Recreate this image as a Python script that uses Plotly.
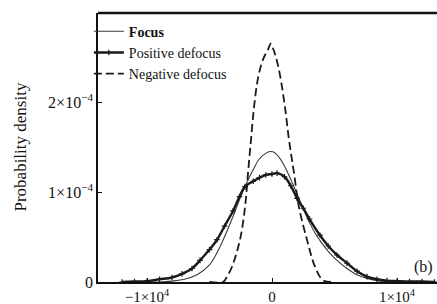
import plotly.graph_objects as go

# ---- data (density values in units of 1e-4) ----
focus_x = [-10000, -9000, -8000, -7000, -6000, -5000, -4500, -4000, -3500, -3000, -2500, -2160,
           -1500, -1000, -500, -150, 200, 600, 1000, 1600, 2000, 2500, 3000, 3500, 3840,
           4500, 5200, 6000, 6800, 7600, 8400, 9200, 10000]
focus_y = [0.0, 0.0, 0.01, 0.03, 0.08, 0.19, 0.30, 0.44, 0.60, 0.77, 0.95, 1.06,
           1.25, 1.37, 1.43, 1.45, 1.44, 1.38, 1.29, 1.11, 0.98, 0.82, 0.66, 0.53, 0.46,
           0.34, 0.24, 0.15, 0.08, 0.04, 0.015, 0.005, 0.0]

pos_x = [-12000, -11000, -10000, -9000, -8000, -7200, -6400, -5760, -5000, -4400, -3800, -3120,
         -2600, -2160, -1500, -1000, -500, 0, 400, 1000, 1500, 2000, 2500, 3000, 3840,
         4500, 5200, 6000, 6800, 7600, 8400, 9200, 10000, 11000, 12000, 13000]
pos_y = [0.0, 0.005, 0.01, 0.03, 0.05, 0.09, 0.15, 0.24, 0.36, 0.47, 0.62, 0.79,
         0.95, 1.06, 1.12, 1.16, 1.19, 1.20, 1.21, 1.17, 1.07, 0.93, 0.82, 0.70, 0.52,
         0.40, 0.30, 0.21, 0.12, 0.06, 0.03, 0.015, 0.01, 0.005, 0.005, 0.0]

neg_x = [-5000, -3920, -3600, -3200, -2560, -2160, -1920, -1680, -1440, -1100, -700, -300, -100,
         100, 350, 640, 1040, 1360, 1760, 2160, 2800, 3440, 4080, 5000]
neg_y = [0.0, 0.0, 0.06, 0.17, 0.47, 0.83, 1.21, 1.58, 1.94, 2.28, 2.48, 2.59, 2.65,
         2.59, 2.48, 2.30, 1.94, 1.58, 1.21, 0.83, 0.47, 0.17, 0.02, 0.0]

x_tick_vals = [-10000, 0, 10000]
x_tick_text = ["\u22121\u00d710<sup>4</sup>", "0", "1\u00d710<sup>4</sup>"]
y_tick_vals = [0, 1e-4, 2e-4]
y_tick_text = ["0", "1\u00d710<sup>\u22124</sup>", "2\u00d710<sup>\u22124</sup>"]

scale = 1e-4
FONT = "Liberation Serif, Times New Roman, serif"
INK = "#111"

fig = go.Figure()
fig.add_trace(go.Scatter(x=focus_x, y=[v * scale for v in focus_y], mode="lines",
                         name="<b>Focus</b>", line=dict(color="#3a3a3a", width=1.1),
                         line_shape="spline"))
fig.add_trace(go.Scatter(x=pos_x, y=[v * scale for v in pos_y], mode="lines+markers",
                         name="Positive defocus", line=dict(color="#1a1a1a", width=2.4),
                         line_shape="spline",
                         marker=dict(symbol="cross-thin", size=4,
                                     line=dict(color="#1a1a1a", width=1.2))))
fig.add_trace(go.Scatter(x=neg_x, y=[v * scale for v in neg_y], mode="lines",
                         name="Negative defocus", line=dict(color="#1a1a1a", width=1.8, dash="8px,4px"),
                         line_shape="spline"))

fig.add_annotation(x=0.995, y=0.015, xref="paper", yref="paper", xanchor="right", yanchor="bottom",
                   text="(b)", showarrow=False, font=dict(family=FONT, size=16, color=INK))
fig.add_annotation(x=-0.23, y=0.5, xref="paper", yref="paper", xanchor="center", yanchor="middle",
                   text="Probability density", textangle=-90, showarrow=False,
                   font=dict(family=FONT, size=17, color=INK))

fig.update_layout(
    width=437, height=304,
    margin=dict(l=98, r=0, t=13, b=22),
    paper_bgcolor="white", plot_bgcolor="white",
    font=dict(family=FONT, size=14, color=INK),
    showlegend=True,
    legend=dict(x=-0.027, y=0.99, xanchor="left", yanchor="top", bgcolor="rgba(0,0,0,0)",
                font=dict(family=FONT, size=14, color=INK), itemwidth=30,
                tracegroupgap=0),
    xaxis=dict(range=[-13920, 13200], tickvals=x_tick_vals, ticktext=x_tick_text,
               ticks="inside", ticklen=4, tickwidth=1, tickcolor=INK,
               showline=True, linecolor=INK, linewidth=2, mirror=False, automargin=False,
               showgrid=False, zeroline=False, tickfont=dict(size=15)),
    yaxis=dict(range=[0, 2.99e-4], tickvals=y_tick_vals, ticktext=y_tick_text,
               ticks="inside", ticklen=4, tickwidth=1, tickcolor=INK,
               showline=True, linecolor=INK, linewidth=1.5, automargin=False,
               showgrid=False, zeroline=False, tickfont=dict(size=16)),
)
fig.add_shape(type="line", xref="paper", yref="paper", x0=0, x1=1, y0=1, y1=1,
              line=dict(color=INK, width=2.5))

fig.write_html("out.html", config={"displayModeBar": False},
               post_script="document.body.style.margin='0';document.body.style.overflow='hidden';")
